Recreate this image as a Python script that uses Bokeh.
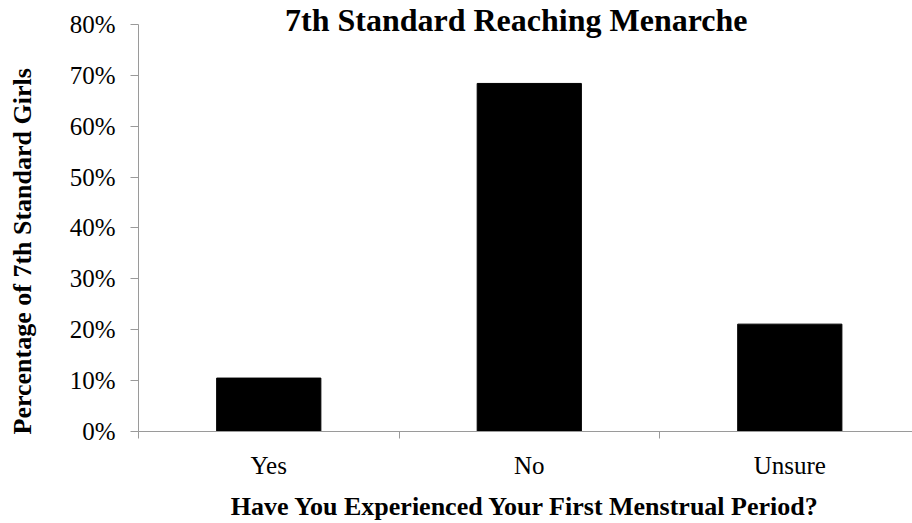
from bokeh.plotting import figure
from bokeh.models import Range1d, FixedTicker, PrintfTickFormatter, Label, Title, ColumnDataSource
from bokeh.embed import file_html
from bokeh.resources import INLINE

categories = ["Yes", "No", "Unsure"]
percentages = [10.5, 68.4, 21.1]
y_ticks = [0, 10, 20, 30, 40, 50, 60, 70, 80]

title_text = "7th Standard Reaching Menarche"
x_title = "Have You Experienced Your First Menstrual Period?"
y_title = "Percentage of 7th Standard Girls"

SERIF = "Liberation Serif"
AXIS_GREY = "#9a9a9a"

centers = [i + 0.5 for i in range(len(categories))]
src = ColumnDataSource(data=dict(x=centers, top=percentages, cat=categories))

p = figure(width=912, height=523, output_backend="svg", toolbar_location=None,
           x_range=Range1d(0, 2.971), y_range=Range1d(0, 84.7),
           min_border_left=138, min_border_right=0, min_border_top=0, min_border_bottom=92)
p.outline_line_color = None
p.background_fill_color = "white"
p.border_fill_color = "white"
p.xgrid.visible = False
p.ygrid.visible = False

p.vbar(x="x", top="top", width=0.4, bottom=0, source=src, fill_color="black", line_color="black")

# y axis
ya = p.yaxis[0]
ya.ticker = FixedTicker(ticks=y_ticks)
ya.bounds = (0, 80)
ya.formatter = PrintfTickFormatter(format="%d%%")
ya.axis_line_color = AXIS_GREY
ya.major_tick_line_color = AXIS_GREY
ya.major_tick_out = 8
ya.major_tick_in = 0
ya.minor_tick_line_color = None
ya.major_label_text_font = SERIF
ya.major_label_text_font_size = "25px"
ya.major_label_text_color = "black"
ya.major_label_standoff = 15
# blank spacer label: keeps room between tick labels and the y title
ya.axis_label = " "
ya.axis_label_text_font_size = "1px"
ya.axis_label_standoff = 21

# y axis title as a side-panel title (aligned to the axis start)
y_lab = Title(text=y_title, align="left", offset=-3, standoff=10,
              text_font=SERIF, text_font_style="bold", text_font_size="26px",
              text_color="black")
p.add_layout(y_lab, "left")

# x axis
xa = p.xaxis[0]
xa.ticker = FixedTicker(ticks=centers, minor_ticks=[0, 1, 2, 3])
xa.major_label_overrides = {c: cat for c, cat in zip(centers, categories)}
xa.axis_line_color = AXIS_GREY
xa.major_tick_line_color = None
xa.major_tick_out = 0
xa.major_tick_in = 0
xa.minor_tick_line_color = AXIS_GREY
xa.minor_tick_out = 7
xa.minor_tick_in = 0
xa.major_label_text_font = SERIF
xa.major_label_text_font_size = "25px"
xa.major_label_text_color = "black"
xa.major_label_standoff = 13
xa.axis_label = x_title
xa.axis_label_text_font = SERIF
xa.axis_label_text_font_style = "bold"
xa.axis_label_text_font_size = "26px"
xa.axis_label_text_color = "black"
xa.axis_label_standoff = 10

title = Label(x=1.45, y=80, text=title_text, text_align="center", text_baseline="middle",
              text_font=SERIF, text_font_style="bold", text_font_size="32px",
              text_color="black", y_offset=4)
p.add_layout(title)

open("out.html", "w").write(file_html(p, INLINE))
